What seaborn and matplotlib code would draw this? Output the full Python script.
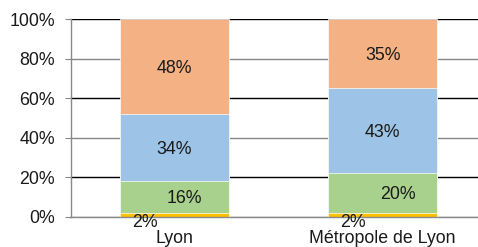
import matplotlib
matplotlib.use("Agg")
import matplotlib.pyplot as plt
import numpy as np
import pandas as pd
import seaborn as sns

# data
places = ["Lyon", "Métropole de Lyon"]
part_yellow = [2, 2]
part_green = [16, 20]
part_blue = [34, 43]
part_orange = [48, 35]

layers = [part_yellow, part_green, part_blue, part_orange]
colors = ["#FFC000", "#A9D18E", "#9DC3E6", "#F4B183"]

sns.set_style("white")
plt.rcParams["font.family"] = ["Liberation Sans", "DejaVu Sans"]

fig = plt.figure(figsize=(4.78, 2.47), dpi=100)
ax = fig.add_axes([70.5 / 478, 0.1227, 408 / 478, 0.922 - 0.1227])

cum = np.cumsum(np.array(layers), axis=0)

# draw tallest first so the stacks overlap correctly
for i in range(len(layers) - 1, -1, -1):
    df = pd.DataFrame({"place": places, "value": cum[i]})
    sns.barplot(data=df, x="place", y="value", color=colors[i], width=0.525,
                saturation=1, edgecolor="white", linewidth=0.5, ax=ax, zorder=3)

# data labels, with the small offsets seen in the picture
fs = 12.8
for j in range(len(places)):
    bottoms = [0] + list(cum[:-1, j])
    for i, vals in enumerate(layers):
        mid = bottoms[i] + vals[j] / 2
        dx, dy = 0, -2
        if i == 0:
            dx, dy = -30, -8
        elif i == 1:
            dx = 10 if j == 0 else 15
            dy = -2 if j == 0 else -1
        ax.annotate(f"{vals[j]}%", (j, mid), xytext=(dx, dy),
                    textcoords="offset pixels", ha="center", va="center",
                    fontsize=fs, color="#1a1a1a", zorder=5)

ax.set_xlim(-0.5, 1.46)
ax.set_ylim(0, 100)
ax.set_yticks(range(0, 101, 20))
ax.set_yticklabels([f"{v}%" for v in range(0, 101, 20)])
ax.set_xlabel("")
ax.set_ylabel("")

ax.yaxis.grid(True, linewidth=1)
ax.set_axisbelow(True)
grid_cols = ["#888888", "#000000", "#888888", "#000000", "#888888", "#000000"]
for line, c in zip(ax.get_ygridlines(), grid_cols):
    line.set_color(c)

for s in ["top", "right"]:
    ax.spines[s].set_visible(False)
for s in ["left", "bottom"]:
    ax.spines[s].set_color("#888888")
    ax.spines[s].set_linewidth(1)
    ax.spines[s].set_zorder(4)

ax.tick_params(axis="y", length=4, color="#888888", labelsize=fs, pad=7,
               labelcolor="#1a1a1a", left=True)
ax.tick_params(axis="x", length=0, labelsize=fs, pad=9.5, labelcolor="#1a1a1a")

fig.savefig("out.png", dpi=100)
